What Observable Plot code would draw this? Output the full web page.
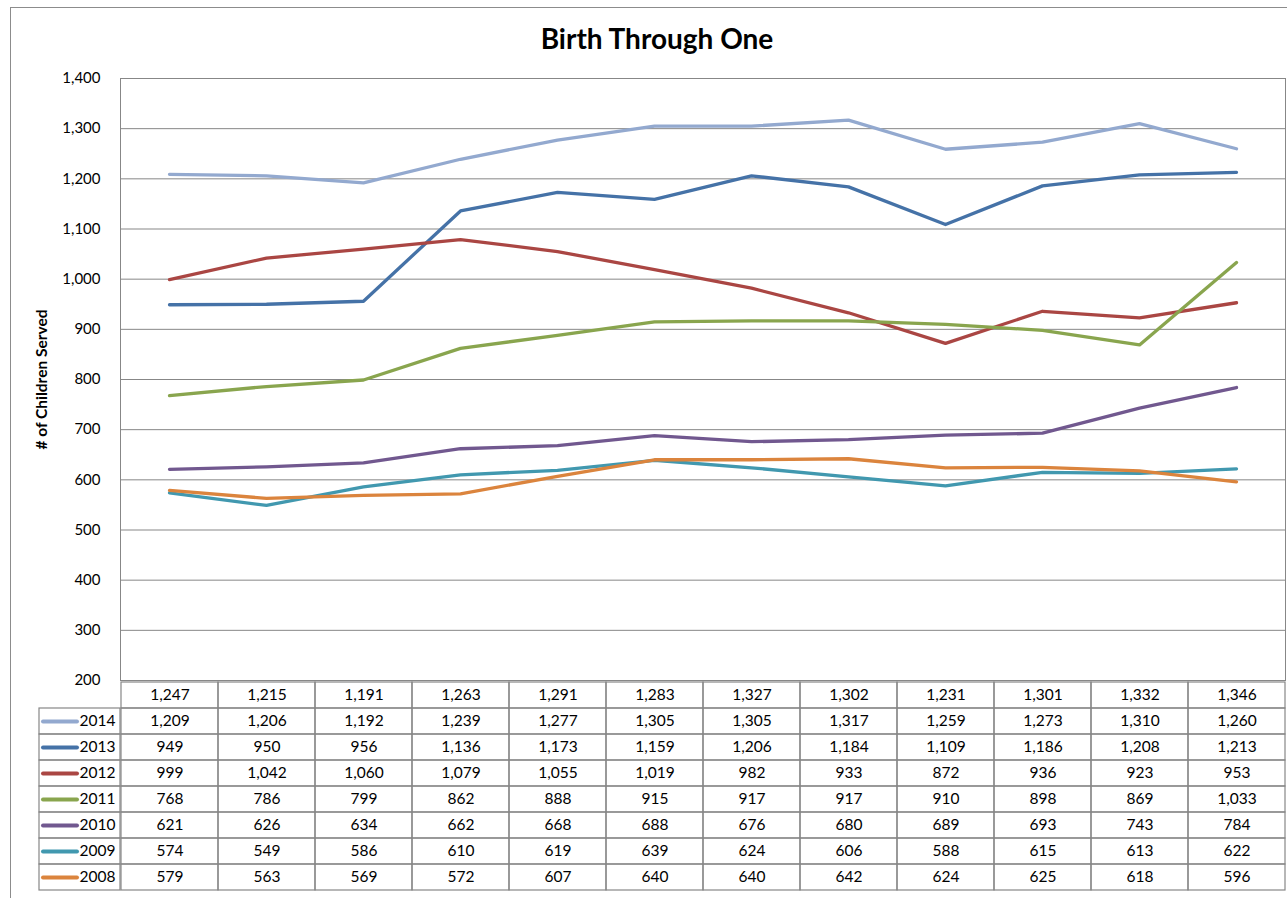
<!DOCTYPE html>
<html>
<head>
<meta charset="utf-8">
<script src="https://cdn.jsdelivr.net/npm/d3@7"></script>
<script src="https://cdn.jsdelivr.net/npm/@observablehq/plot@0.6"></script>
<style>
  html, body { margin: 0; padding: 0; background: #fff; }
  #wrap { position: relative; width: 1287px; height: 898px; overflow: hidden; font-family: Lato, "Noto Sans", sans-serif; }
  #border { position: absolute; left: 10px; top: 7px; width: 1300px; height: 920px; border: 1px solid #8c8c8c; box-sizing: border-box; }
  #title { position: absolute; left: 0; width: 1314px; top: 21px; text-align: center; font-weight: bold; font-size: 28px; color: #000; }
  .layer { position: absolute; left: 0; }
  .layer svg { overflow: visible; }
</style>
</head>
<body>
<div id="wrap">
  <div id="border"></div>
  <div id="title">Birth Through One</div>
  <div id="main" class="layer" style="top:0"></div>
  <div id="table" class="layer" style="top:680px"></div>
  <div id="legend" class="layer" style="top:680px"></div>
</div>
<script>
// ---- data ----
const categories = ["1,247", "1,215", "1,191", "1,263", "1,291", "1,283", "1,327", "1,302", "1,231", "1,301", "1,332", "1,346"];
const seriesNames = ["2014", "2013", "2012", "2011", "2010", "2009", "2008"];
const s2014 = [1209, 1206, 1192, 1239, 1277, 1305, 1305, 1317, 1259, 1273, 1310, 1260];
const s2013 = [949, 950, 956, 1136, 1173, 1159, 1206, 1184, 1109, 1186, 1208, 1213];
const s2012 = [999, 1042, 1060, 1079, 1055, 1019, 982, 933, 872, 936, 923, 953];
const s2011 = [768, 786, 799, 862, 888, 915, 917, 917, 910, 898, 869, 1033];
const s2010 = [621, 626, 634, 662, 668, 688, 676, 680, 689, 693, 743, 784];
const s2009 = [574, 549, 586, 610, 619, 639, 624, 606, 588, 615, 613, 622];
const s2008 = [579, 563, 569, 572, 607, 640, 640, 642, 624, 625, 618, 596];
const yTicks = [200, 300, 400, 500, 600, 700, 800, 900, 1000, 1100, 1200, 1300, 1400];
const colors = ["#93A9CF", "#4572A7", "#AA4643", "#89A54E", "#71588F", "#4198AF", "#DB843D"];
const yLabel = "# of Children Served";

const seriesValues = [s2014, s2013, s2012, s2011, s2010, s2009, s2008];
const tidy = [];
seriesNames.forEach((name, i) => {
  seriesValues[i].forEach((v, j) => tidy.push({series: name, cat: categories[j], value: v}));
});

const fmt = d3.format(",");
const gridColor = "#878787";
const W = 1287;

// ---- main line chart ----
const main = Plot.plot({
  width: W,
  height: 681,
  marginLeft: 120,
  marginRight: 2,
  marginTop: 78,
  marginBottom: 1,
  style: {fontFamily: "Lato, 'Noto Sans', sans-serif", fontSize: "15px", color: "#000", background: "transparent"},
  x: {type: "point", domain: categories, padding: 0.5, axis: null},
  y: {domain: [200, 1400], axis: null},
  color: {domain: seriesNames, range: colors},
  marks: [
    Plot.gridY(yTicks, {stroke: gridColor, strokeOpacity: 1, strokeWidth: 1}),
    Plot.frame({stroke: gridColor}),
    Plot.axisY(yTicks, {tickSize: 0, tickPadding: 20, tickFormat: fmt, fontSize: 15, fill: "#000", label: null}),
    Plot.text([yLabel], {frameAnchor: "left", textAnchor: "middle", rotate: -90, dx: -78, fontWeight: "bold", fontSize: 15.5, fill: "#000"}),
    Plot.line(tidy, {x: "cat", y: "value", z: "series", stroke: "series", strokeWidth: 3.3, strokeLinejoin: "round", strokeLinecap: "round"})
  ]
});
document.getElementById("main").appendChild(main);

// ---- data table ----
const rows = ["cat", ...seriesNames];
const cells = [];
categories.forEach((c, j) => cells.push({row: "cat", cat: c, label: c}));
seriesNames.forEach((name, i) => {
  seriesValues[i].forEach((v, j) => cells.push({row: name, cat: categories[j], label: fmt(v)}));
});

const table = Plot.plot({
  width: W,
  height: 218,
  marginLeft: 120,
  marginRight: 2,
  marginTop: 0,
  marginBottom: 6,
  style: {fontFamily: "Lato, 'Noto Sans', sans-serif", fontSize: "15.5px", color: "#000", background: "transparent"},
  x: {type: "band", domain: categories, padding: 0, axis: null},
  y: {type: "band", domain: rows, padding: 0, axis: null},
  marks: [
    Plot.cell(cells, {x: "cat", y: "row", fill: "none", stroke: gridColor, strokeWidth: 1.2}),
    Plot.text(cells, {x: "cat", y: "row", text: "label", fill: "#000", fontSize: 15.5})
  ]
});
document.getElementById("table").appendChild(table);

// ---- legend column of the data table ----
const legend = Plot.plot({
  width: 121,
  height: 218,
  marginLeft: 39,
  marginRight: 1,
  marginTop: 0,
  marginBottom: 6,
  style: {fontFamily: "Lato, 'Noto Sans', sans-serif", fontSize: "15.5px", color: "#000", background: "transparent"},
  x: {type: "band", domain: ["key"], padding: 0, axis: null},
  y: {type: "band", domain: rows, padding: 0, axis: null},
  color: {domain: seriesNames, range: colors},
  marks: [
    Plot.cell(seriesNames, {x: () => "key", y: d => d, fill: "none", stroke: gridColor, strokeWidth: 1.2}),
    Plot.ruleY(seriesNames, {y: d => d, stroke: d => d, strokeWidth: 4, strokeLinecap: "round", insetLeft: 4, insetRight: 43}),
    Plot.text(seriesNames, {y: d => d, text: d => d, frameAnchor: "right", textAnchor: "end", dx: -5, fill: "#000", fontSize: 15.5})
  ]
});
document.getElementById("legend").appendChild(legend);
</script>
</body>
</html>
